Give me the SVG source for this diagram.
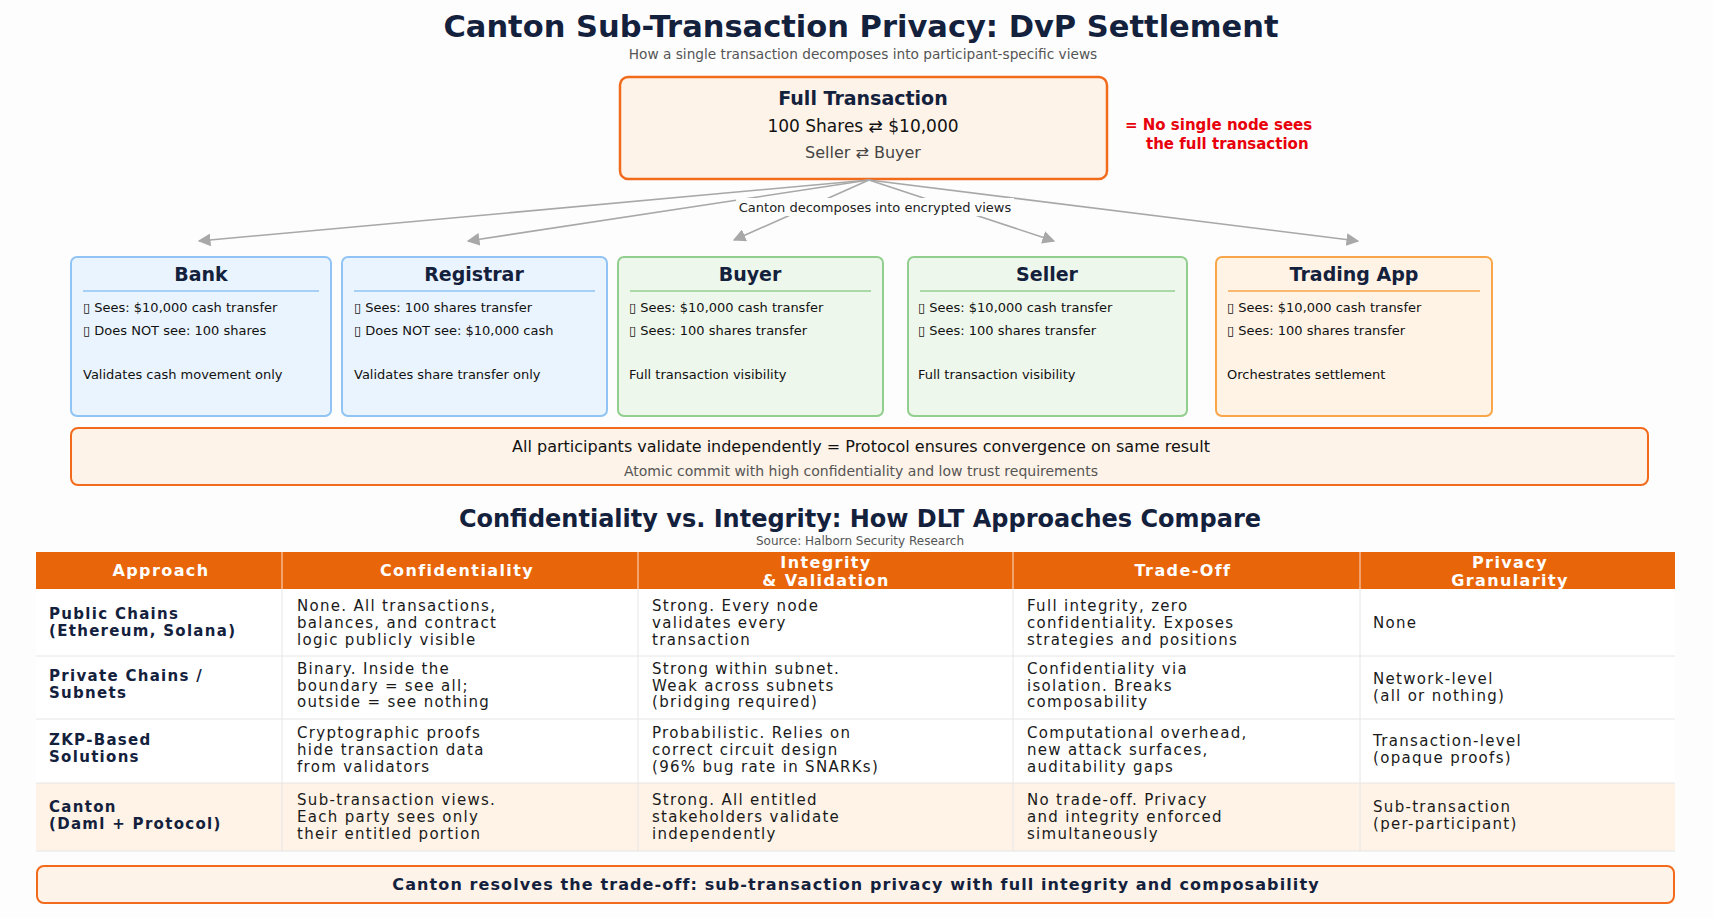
<svg xmlns="http://www.w3.org/2000/svg" width="1713" height="918" viewBox="0 0 1713 918">
<defs>
<marker id="ah" viewBox="0 0 10 10" refX="9" refY="5" markerWidth="8" markerHeight="8" orient="auto"><path d="M0,0 L10,5 L0,10 z" fill="#a8a8a8"/></marker>
<style>
text{font-family:"DejaVu Sans",Verdana,sans-serif;fill:#14213d}
.t{font-weight:bold}
.c{text-anchor:middle}
.box text{font-size:13px;fill:#111}
.box .h{font-size:19px;font-weight:bold;text-anchor:middle;fill:#14213d}
.blue rect{fill:#eaf4fe;stroke:#90c4f5}
.blue line{stroke:#90c4f5}
.green rect{fill:#eef7ec;stroke:#92cf8f}
.green line{stroke:#92cf8f}
.orng rect{fill:#fff3e6;stroke:#f9a64a}
.orng line{stroke:#f9a64a}
.box rect{stroke-width:2}
.box line{stroke-width:1.5}
.th{fill:#fff;font-weight:bold;font-size:16px;text-anchor:middle;letter-spacing:1.4px}
.td{font-size:15px;fill:#1a1a1a;letter-spacing:1.3px}
.tl{font-size:15px;font-weight:bold;fill:#14213d;letter-spacing:1.3px}
.grid line{stroke:#e6e6e6;stroke-width:1}
</style>
</defs>
<rect width="1713" height="918" fill="#fdfdfd"/>
<text class="t c" x="861" y="37" font-size="30.5">Canton Sub-Transaction Privacy: DvP Settlement</text>
<text class="c" x="863" y="59" font-size="13.7" style="fill:#555">How a single transaction decomposes into participant-specific views</text>

<g id="full-transaction">
<rect x="620" y="77" width="487" height="102" rx="8" fill="#fef3e8" stroke="#f26b1d" stroke-width="2.5"/>
<text class="t c" x="863" y="105" font-size="19">Full Transaction</text>
<text class="c" x="863" y="132" font-size="17" style="fill:#111">100 Shares ⇄ $10,000</text>
<text class="c" x="863" y="158" font-size="16" style="fill:#444">Seller ⇄ Buyer</text>
</g>
<g id="note">
<text class="t" x="1125" y="130" font-size="15" style="fill:#e8000b">= No single node sees</text>
<text class="t" x="1146" y="149" font-size="15" style="fill:#e8000b">the full transaction</text>
</g>

<g id="connectors" stroke="#a8a8a8" stroke-width="1.6" fill="none">
<line x1="869" y1="180" x2="199" y2="241" marker-end="url(#ah)"/>
<line x1="869" y1="180" x2="468" y2="241" marker-end="url(#ah)"/>
<line x1="869" y1="180" x2="734" y2="240" marker-end="url(#ah)"/>
<line x1="869" y1="180" x2="1054" y2="241" marker-end="url(#ah)"/>
<line x1="869" y1="180" x2="1358" y2="241" marker-end="url(#ah)"/>
<rect x="736" y="198" width="278" height="18" fill="#fdfdfd" stroke="none"/>
<text class="c" x="875" y="212" font-size="13" stroke="none" style="fill:#222">Canton decomposes into encrypted views</text>
</g>

<g id="bank" class="box blue">
<rect x="71" y="257" width="260" height="159" rx="6"/>
<text class="h" x="201" y="281">Bank</text>
<line x1="83" y1="291" x2="319" y2="291"/>
<text x="83" y="312">▯ Sees: $10,000 cash transfer</text>
<text x="83" y="335">▯ Does NOT see: 100 shares</text>
<text x="83" y="379">Validates cash movement only</text>
</g>
<g id="registrar" class="box blue">
<rect x="342" y="257" width="265" height="159" rx="6"/>
<text class="h" x="474" y="281">Registrar</text>
<line x1="354" y1="291" x2="595" y2="291"/>
<text x="354" y="312">▯ Sees: 100 shares transfer</text>
<text x="354" y="335">▯ Does NOT see: $10,000 cash</text>
<text x="354" y="379">Validates share transfer only</text>
</g>
<g id="buyer" class="box green">
<rect x="618" y="257" width="265" height="159" rx="6"/>
<text class="h" x="750" y="281">Buyer</text>
<line x1="630" y1="291" x2="871" y2="291"/>
<text x="629" y="312">▯ Sees: $10,000 cash transfer</text>
<text x="629" y="335">▯ Sees: 100 shares transfer</text>
<text x="629" y="379">Full transaction visibility</text>
</g>
<g id="seller" class="box green">
<rect x="908" y="257" width="279" height="159" rx="6"/>
<text class="h" x="1047" y="281">Seller</text>
<line x1="920" y1="291" x2="1175" y2="291"/>
<text x="918" y="312">▯ Sees: $10,000 cash transfer</text>
<text x="918" y="335">▯ Sees: 100 shares transfer</text>
<text x="918" y="379">Full transaction visibility</text>
</g>
<g id="trading-app" class="box orng">
<rect x="1216" y="257" width="276" height="159" rx="6"/>
<text class="h" x="1354" y="281">Trading App</text>
<line x1="1228" y1="291" x2="1480" y2="291"/>
<text x="1227" y="312">▯ Sees: $10,000 cash transfer</text>
<text x="1227" y="335">▯ Sees: 100 shares transfer</text>
<text x="1227" y="379">Orchestrates settlement</text>
</g>

<g id="consensus">
<rect x="71" y="428" width="1577" height="57" rx="7" fill="#fef3e8" stroke="#f26b1d" stroke-width="2"/>
<text class="c" x="861" y="452" font-size="16" style="fill:#111">All participants validate independently = Protocol ensures convergence on same result</text>
<text class="c" x="861" y="476" font-size="14" style="fill:#555">Atomic commit with high confidentiality and low trust requirements</text>
</g>

<text class="t c" x="860" y="527" font-size="24">Confidentiality vs. Integrity: How DLT Approaches Compare</text>
<text class="c" x="860" y="545" font-size="12" style="fill:#555">Source: Halborn Security Research</text>

<g id="table">
<rect x="36" y="552" width="1639" height="37" fill="#e8650a"/>
<rect x="36" y="589" width="1639" height="194" fill="#fff"/>
<rect x="36" y="783" width="1639" height="68" fill="#fef3e6"/>
<g class="grid">
<line x1="282" y1="552" x2="282" y2="851"/>
<line x1="638" y1="552" x2="638" y2="851"/>
<line x1="1013" y1="552" x2="1013" y2="851"/>
<line x1="1360" y1="552" x2="1360" y2="851"/>
<line x1="36" y1="656" x2="1675" y2="656"/>
<line x1="36" y1="719" x2="1675" y2="719"/>
<line x1="36" y1="783" x2="1675" y2="783"/>
<line x1="36" y1="851" x2="1675" y2="851"/>
</g>
<g stroke="#f5a26a" stroke-width="1.5"><line x1="282" y1="552" x2="282" y2="589"/><line x1="638" y1="552" x2="638" y2="589"/><line x1="1013" y1="552" x2="1013" y2="589"/><line x1="1360" y1="552" x2="1360" y2="589"/></g>
<text class="th" x="161" y="576">Approach</text>
<text class="th" x="457" y="576">Confidentiality</text>
<text class="th" x="826" y="568">Integrity</text>
<text class="th" x="826" y="586">&amp; Validation</text>
<text class="th" x="1183" y="576">Trade-Off</text>
<text class="th" x="1510" y="568">Privacy</text>
<text class="th" x="1510" y="586">Granularity</text>

<text class="tl" x="49" y="619">Public Chains</text>
<text class="tl" x="49" y="636">(Ethereum, Solana)</text>
<text class="td" x="297" y="611">None. All transactions,</text>
<text class="td" x="297" y="628">balances, and contract</text>
<text class="td" x="297" y="645">logic publicly visible</text>
<text class="td" x="652" y="611">Strong. Every node</text>
<text class="td" x="652" y="628">validates every</text>
<text class="td" x="652" y="645">transaction</text>
<text class="td" x="1027" y="611">Full integrity, zero</text>
<text class="td" x="1027" y="628">confidentiality. Exposes</text>
<text class="td" x="1027" y="645">strategies and positions</text>
<text class="td" x="1373" y="628">None</text>

<text class="tl" x="49" y="681">Private Chains /</text>
<text class="tl" x="49" y="698">Subnets</text>
<text class="td" x="297" y="674">Binary. Inside the</text>
<text class="td" x="297" y="691">boundary = see all;</text>
<text class="td" x="297" y="707">outside = see nothing</text>
<text class="td" x="652" y="674">Strong within subnet.</text>
<text class="td" x="652" y="691">Weak across subnets</text>
<text class="td" x="652" y="707">(bridging required)</text>
<text class="td" x="1027" y="674">Confidentiality via</text>
<text class="td" x="1027" y="691">isolation. Breaks</text>
<text class="td" x="1027" y="707">composability</text>
<text class="td" x="1373" y="684">Network-level</text>
<text class="td" x="1373" y="701">(all or nothing)</text>

<text class="tl" x="49" y="745">ZKP-Based</text>
<text class="tl" x="49" y="762">Solutions</text>
<text class="td" x="297" y="738">Cryptographic proofs</text>
<text class="td" x="297" y="755">hide transaction data</text>
<text class="td" x="297" y="772">from validators</text>
<text class="td" x="652" y="738">Probabilistic. Relies on</text>
<text class="td" x="652" y="755">correct circuit design</text>
<text class="td" x="652" y="772">(96% bug rate in SNARKs)</text>
<text class="td" x="1027" y="738">Computational overhead,</text>
<text class="td" x="1027" y="755">new attack surfaces,</text>
<text class="td" x="1027" y="772">auditability gaps</text>
<text class="td" x="1373" y="746">Transaction-level</text>
<text class="td" x="1373" y="763">(opaque proofs)</text>

<text class="tl" x="49" y="812">Canton</text>
<text class="tl" x="49" y="829">(Daml + Protocol)</text>
<text class="td" x="297" y="805">Sub-transaction views.</text>
<text class="td" x="297" y="822">Each party sees only</text>
<text class="td" x="297" y="839">their entitled portion</text>
<text class="td" x="652" y="805">Strong. All entitled</text>
<text class="td" x="652" y="822">stakeholders validate</text>
<text class="td" x="652" y="839">independently</text>
<text class="td" x="1027" y="805">No trade-off.  Privacy</text>
<text class="td" x="1027" y="822">and integrity enforced</text>
<text class="td" x="1027" y="839">simultaneously</text>
<text class="td" x="1373" y="812">Sub-transaction</text>
<text class="td" x="1373" y="829">(per-participant)</text>
</g>

<g id="conclusion">
<rect x="37" y="866" width="1637" height="37" rx="7" fill="#fef3e8" stroke="#f26b1d" stroke-width="2"/>
<text class="t c" x="856" y="890" font-size="16" letter-spacing="1.1">Canton resolves the trade-off: sub-transaction privacy with full integrity and composability</text>
</g>
</svg>
